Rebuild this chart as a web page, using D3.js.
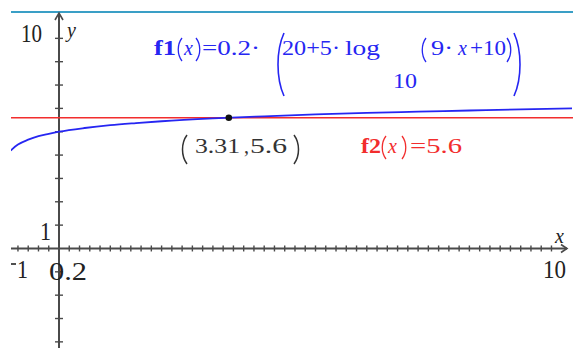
<!DOCTYPE html>
<html>
<head>
<meta charset="utf-8">
<script src="https://cdn.jsdelivr.net/npm/d3@7"></script>
<style>
  body { margin: 0; background: #fff; }
  svg { display: block; }
</style>
</head>
<body>
<div id="chart"></div>
<script>
// graph window
const xWindow = [-1, 10];
const yWindow = [-4.28, 10];
const xTickStep = 0.2;
const yTickStep = 1;

// f1(x)
const f1X = [-0.94, -0.9, -0.8, -0.6, -0.4, -0.2, 0, 0.5, 1, 1.5, 2, 3, 4, 5, 6, 7, 8, 9, 10];
const f1Y = [4.19, 4.28, 4.45, 4.66, 4.81, 4.91, 5.0, 5.16, 5.28, 5.37, 5.45, 5.57, 5.66, 5.74, 5.81, 5.86, 5.91, 5.96, 6.0];

// f2(x) constant line and the intersection point
const f2Value = 5.6;
const pointXY = [3.31, 5.6];

// labels
const xMinLabel = '1';
const xMaxLabel = '10';
const yMaxLabel = '10';
const xScaleLabel = '0.2';
const yScaleLabel = '1';

const width = 573, height = 348;
const plotLeft = 11;
const serif = '"Liberation Serif", "DejaVu Serif", serif';
const axisColor = '#4a4a4a';
const blue = '#2626f2';
const red = '#f22d2d';

const svg = d3.select('#chart').append('svg')
  .attr('width', width).attr('height', height);

const x = d3.scaleLinear().domain(xWindow).range([7.7, 572]);
const y = d3.scaleLinear().domain(yWindow).range([348.4, 15]);

svg.append('defs').append('clipPath').attr('id', 'plot')
  .append('rect').attr('x', plotLeft).attr('y', 0)
  .attr('width', width - plotLeft).attr('height', height);

// window top border
svg.append('line')
  .attr('x1', plotLeft).attr('x2', width)
  .attr('y1', 12).attr('y2', 12)
  .attr('stroke', '#3a9fc6').attr('stroke-width', 2);

// axes
const x0 = x(0), y0 = y(0);
svg.append('line')
  .attr('x1', plotLeft).attr('x2', 567)
  .attr('y1', y0).attr('y2', y0)
  .attr('stroke', axisColor).attr('stroke-width', 2);
svg.append('line')
  .attr('x1', x0).attr('x2', x0)
  .attr('y1', 13).attr('y2', height)
  .attr('stroke', axisColor).attr('stroke-width', 2);

// arrows
svg.append('path')
  .attr('d', `M${x0 - 4},${20}L${x0},${13}L${x0 + 4},${20}`)
  .attr('fill', 'none').attr('stroke', axisColor).attr('stroke-width', 1.6);
svg.append('path')
  .attr('d', `M${561},${y0 - 4}L${567},${y0}L${561},${y0 + 4}`)
  .attr('fill', 'none').attr('stroke', axisColor).attr('stroke-width', 1.6);

// ticks
const xTicks = d3.range(Math.round(xWindow[0] / xTickStep), Math.round(xWindow[1] / xTickStep))
  .map(k => k * xTickStep)
  .filter(v => Math.abs(v) > 1e-9 && x(v) > plotLeft + 1 && x(v) < 560);
svg.append('g').selectAll('line').data(xTicks).join('line')
  .attr('x1', d => x(d)).attr('x2', d => x(d))
  .attr('y1', y0 - 3).attr('y2', y0 + 3)
  .attr('stroke', axisColor).attr('stroke-width', 1.4);

const yTicks = d3.range(Math.ceil(yWindow[0]), yWindow[1], yTickStep)
  .filter(v => v !== 0 && y(v) > 22);
svg.append('g').selectAll('line').data(yTicks).join('line')
  .attr('x1', x0 - 4).attr('x2', x0 + 4)
  .attr('y1', d => y(d)).attr('y2', d => y(d))
  .attr('stroke', axisColor).attr('stroke-width', 1.4);

// text helper
function label(txt, px, py, opts = {}) {
  const t = svg.append('text')
    .attr('x', px).attr('y', py)
    .attr('font-family', serif)
    .attr('font-size', opts.size || 25)
    .attr('fill', opts.fill || '#222')
    .attr('text-anchor', opts.anchor || 'start')
    .text(txt);
  if (opts.italic) t.attr('font-style', 'italic');
  if (opts.bold) t.attr('font-weight', 'bold');
  if (opts.len) t.attr('textLength', opts.len).attr('lengthAdjust', 'spacingAndGlyphs');
  return t;
}

// axis labels
label(yMaxLabel, 21, 42, { len: 21 });
label(yScaleLabel, 40, 240, { len: 11 });
svg.append('line') // raised negative sign
  .attr('x1', 11).attr('x2', 16).attr('y1', 264).attr('y2', 264)
  .attr('stroke', '#222').attr('stroke-width', 1.6);
label(xMinLabel, 17, 277.5, { len: 11 });
label(xScaleLabel, 49, 280, { len: 38 });
label(xMaxLabel, 543, 277.5, { len: 23 });
label('y', 67, 37, { italic: true, size: 20 });
label('x', 555, 243, { italic: true, size: 20 });

// curves
const g = svg.append('g').attr('clip-path', 'url(#plot)');
g.append('line')
  .attr('x1', plotLeft).attr('x2', width)
  .attr('y1', y(f2Value)).attr('y2', y(f2Value))
  .attr('stroke', red).attr('stroke-width', 1.6);

const line = d3.line()
  .x((d, i) => x(f1X[i]))
  .y(d => y(d))
  .curve(d3.curveMonotoneX);
g.append('path')
  .attr('d', line(f1Y))
  .attr('fill', 'none')
  .attr('stroke', blue).attr('stroke-width', 1.8);

// intersection point
svg.append('circle')
  .attr('cx', x(pointXY[0])).attr('cy', y(pointXY[1]))
  .attr('r', 3.3).attr('fill', '#111');

// parenthesis drawn as a curved stroke
function paren(open, px, top, bottom, w, stroke, sw = 1.5) {
  const h = bottom - top;
  const outer = open ? px : px + w;
  const inner = open ? px + w : px;
  svg.append('path')
    .attr('d', `M${inner},${top}C${outer},${top + h * 0.28} ${outer},${bottom - h * 0.28} ${inner},${bottom}`)
    .attr('fill', 'none').attr('stroke', stroke).attr('stroke-width', sw);
}

// point label
const grey = '#333';
paren(true, 181, 135, 164, 6, grey);
label(pointXY[0].toFixed(2), 195, 153, { size: 20, fill: grey, len: 45 });
label(',', 244, 153, { size: 20, fill: grey });
label(String(pointXY[1]), 250, 153, { size: 20, fill: grey, len: 37 });
paren(false, 294, 135, 164, 6, grey);

// f2 label
label('f2', 361, 153, { size: 20, fill: red, bold: true, len: 20 });
paren(true, 381, 136, 159, 5, red, 1.3);
label('x', 388, 153, { size: 20, fill: red, italic: true });
paren(false, 402, 136, 159, 5, red, 1.3);
label('=' + f2Value, 410, 153, { size: 20, fill: red, len: 52 });

// f1 label
label('f1', 154, 55, { size: 20, fill: blue, bold: true, len: 22 });
paren(true, 177, 38, 61, 5, blue, 1.3);
label('x', 184, 55, { size: 20, fill: blue, italic: true });
paren(false, 196, 38, 61, 5, blue, 1.3);
label('=0.2\u00B7', 202, 55, { size: 20, fill: blue, len: 58 });
paren(true, 276, 33, 96, 8, blue, 1.6);
label('20+5\u00B7', 282, 55, { size: 20, fill: blue, len: 58 });
label('log', 345, 55, { size: 20, fill: blue, len: 35 });
label('10', 393, 88, { size: 20, fill: blue, len: 24 });
paren(true, 421, 38, 62, 5, blue, 1.3);
label('9\u00B7', 431, 55, { size: 20, fill: blue, len: 22 });
label('x', 458, 55, { size: 20, fill: blue, italic: true });
label('+10', 470, 55, { size: 20, fill: blue, len: 36 });
paren(false, 507, 38, 62, 5, blue, 1.3);
paren(false, 514, 33, 96, 8, blue, 1.6);
</script>
</body>
</html>
